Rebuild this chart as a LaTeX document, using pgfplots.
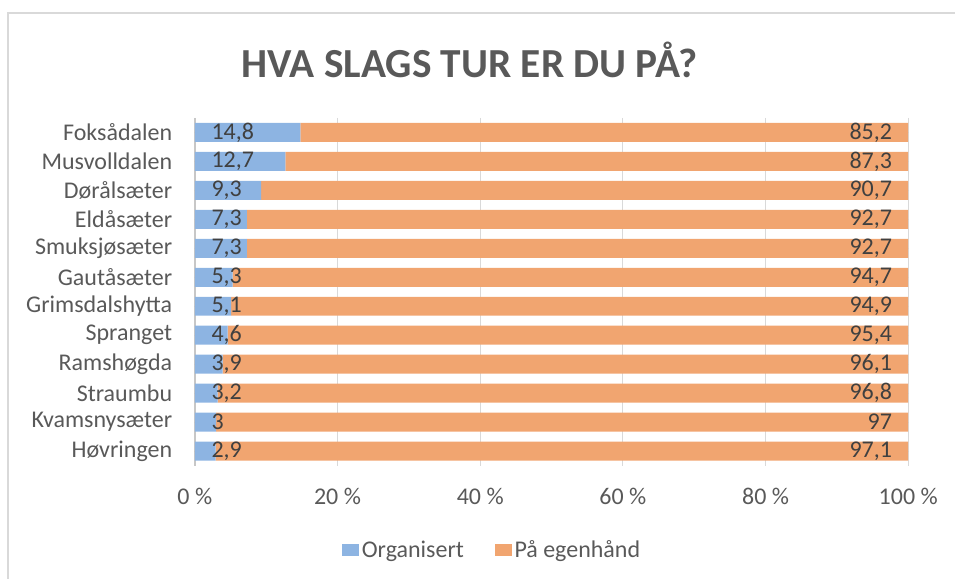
\documentclass[border=0pt]{standalone}
\usepackage{pgfplots}
\pgfplotsset{compat=1.18}
\usepackage{fontspec}
\setmainfont{Carlito}
\definecolor{blueS}{RGB}{141,180,226}
\definecolor{orangeS}{RGB}{241,165,112}
\definecolor{txt}{RGB}{89,89,89}
\definecolor{lbl}{RGB}{64,64,64}
\definecolor{gridc}{RGB}{217,217,217}
\pgfplotsset{
  base/.style={
    at={(146.25pt,84.75pt)}, anchor=south west,
    scale only axis, width=535.5pt, height=261pt,
    xmin=0, xmax=100, ymin=-0.5, ymax=11.5, y dir=reverse,
    xtick={0,20,...,100}, ytick={0,...,11},
    major tick length=0pt,
  },
}
\begin{document}
\begin{tikzpicture}
\path (0,0) rectangle (717pt,434.25pt);
\draw[gridc, line width=1.2pt] (6pt,0) -- (6pt,424.5pt) -- (717pt,424.5pt);
\node[txt, font=\fontsize{31}{36}\selectfont\bfseries] at (352.5pt,389.25pt) {HVA SLAGS TUR ER DU PÅ?};
\begin{axis}[base,
  xbar stacked, bar width=14.25pt,
  xmajorgrids, grid style={gridc, line width=0.9pt},
  axis lines*=left,
  x axis line style={draw=none},
  y axis line style={draw=gridc!80!gray, line width=1pt},
  xticklabel={\pgfmathprintnumber[assume math mode=true]{\tick} \%},
  xticklabel style={font=\fontsize{18}{21}\selectfont, text=txt, yshift=-13pt},
  yticklabels={Foksådalen,Musvolldalen,Dørålsæter,Eldåsæter,Smuksjøsæter,Gautåsæter,Grimsdalshytta,Spranget,Ramshøgda,Straumbu,Kvamsnysæter,Høvringen},
  yticklabel style={font=\fontsize{18}{21}\selectfont, text=txt, xshift=-13.5pt},
  legend columns=2,
  legend style={at={(0.417,-0.244)}, anchor=center, draw=none, fill=none,
    font=\fontsize{18}{21}\selectfont, text=txt,
    /tikz/every even column/.append style={column sep=21pt},
    nodes={inner sep=2pt}},
  legend image code/.code={\path[#1, draw=none] (0pt,-4.5pt) rectangle (13pt,4.5pt);},
]
\addplot[fill=blueS, draw=none] coordinates {(14.8,0) (12.7,1) (9.3,2) (7.3,3) (7.3,4) (5.3,5) (5.1,6) (4.6,7) (3.9,8) (3.2,9) (3,10) (2.9,11)};
\addplot[fill=orangeS, draw=none] coordinates {(85.2,0) (87.3,1) (90.7,2) (92.7,3) (92.7,4) (94.7,5) (94.9,6) (95.4,7) (96.1,8) (96.8,9) (97,10) (97.1,11)};
\legend{Organisert, På egenhånd}
\end{axis}
\begin{axis}[base,
  hide axis,
  nodes near coords={\pgfmathprintnumber[use comma, assume math mode=true]{\pgfplotspointmeta}},
  every node near coord/.append style={font=\fontsize{18}{21}\selectfont, text=lbl},
]
\addplot[only marks, mark=*, mark size=0pt, mark options={draw=none, fill=none}, point meta=explicit,
  every node near coord/.append style={anchor=west, xshift=9pt}]
  coordinates {(0,0)[14.8] (0,1)[12.7] (0,2)[9.3] (0,3)[7.3] (0,4)[7.3] (0,5)[5.3] (0,6)[5.1] (0,7)[4.6] (0,8)[3.9] (0,9)[3.2] (0,10)[3] (0,11)[2.9]};
\addplot[only marks, mark=*, mark size=0pt, mark options={draw=none, fill=none}, point meta=explicit,
  every node near coord/.append style={anchor=east, xshift=-8.7pt}]
  coordinates {(100,0)[85.2] (100,1)[87.3] (100,2)[90.7] (100,3)[92.7] (100,4)[92.7] (100,5)[94.7] (100,6)[94.9] (100,7)[95.4] (100,8)[96.1] (100,9)[96.8] (100,10)[97] (100,11)[97.1]};
\end{axis}
\end{tikzpicture}
\end{document}
